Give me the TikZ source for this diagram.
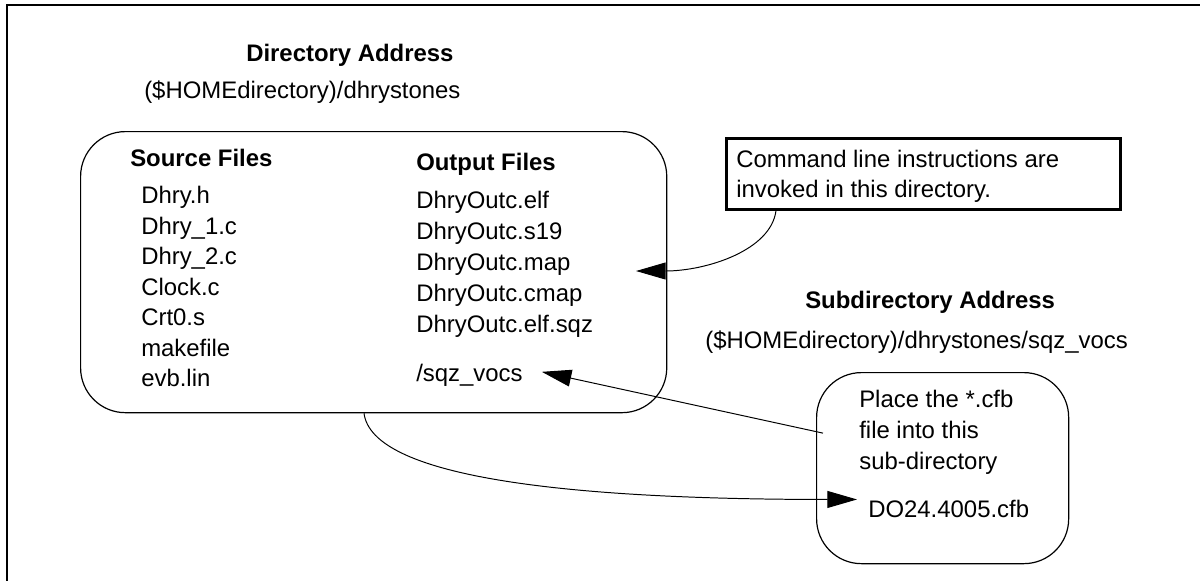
\documentclass[tikz,border=0pt]{standalone}
\usepackage{fontspec}
\setmainfont{Liberation Sans}
\usetikzlibrary{arrows.meta,calc,positioning}
\tikzset{
  every node/.style={font=\fontsize{17}{21.7}\selectfont, inner sep=0pt, anchor=base west},
  heading/.style={font=\fontsize{17}{21.7}\selectfont\bfseries},
  folder/.style={draw, line width=0.85pt, rounded corners=1.12cm, anchor=north west},
  notebox/.style={draw, line width=1.8pt, anchor=north west},
  frame/.style={draw, line width=1.4pt},
  link/.style={-{Triangle[length=21pt,width=12pt]}, line width=0.7pt},
}
\begin{document}
\begin{tikzpicture}[x=0.025cm,y=-0.025cm]
  \useasboundingbox (0,0) rectangle (1200,580);
  % Outer frame (runs off the right and bottom edges)
  \draw[frame] (7,600) -- (7,5) -- (1220,5);
  % Main directory
  \node[heading] (dirtitle) at (246,61) {Directory Address};
  \node (dirpath) at (144,98) {(\$HOMEdirectory)/dhrystones};
  \node[folder, minimum width=14.65cm, minimum height=7.025cm] (dirbox) at (80,131) {};
  \node[heading] (srchead) at (130,166) {Source Files};
  \foreach \f [count=\i from 0] in {Dhry.h, Dhry\_1.c, Dhry\_2.c, Clock.c, Crt0.s, makefile, evb.lin}
    \node (src\i) at (141,{203.5+30.5*\i}) {\f};
  \node[heading] (outhead) at (416,170) {Output Files};
  \foreach \f [count=\i from 0] in {DhryOutc.elf, DhryOutc.s19, DhryOutc.map, DhryOutc.cmap, DhryOutc.elf.sqz}
    \node (out\i) at (416,{208+31*\i}) {\f};
  \node (sqzvocs) at (416,381) {/sqz\_vocs};
  % Callout
  \node[notebox, minimum width=9.85cm, minimum height=1.775cm] (callout) at (725,137) {};
  \node (note1) at (736,167) {Command line instructions are};
  \node (note2) at (736,197) {invoked in this directory.};
  % Subdirectory
  \node[heading] (subtitle) at (805,308) {Subdirectory Address};
  \node (subpath) at (705,348) {(\$HOMEdirectory)/dhrystones/sqz\_vocs};
  \node[folder, minimum width=6.3cm, minimum height=4.775cm] (subbox) at (816,372) {};
  \node (place1) at (859,407) {Place the *.cfb};
  \node (place2) at (859,438) {file into this};
  \node (place3) at (859,469) {sub-directory};
  \node (docfb) at (868,517) {DO24.4005.cfb};
  % Connectors
  \coordinate (maptip) at (636,271);
  \draw[link] ($(callout.south west)+(51,0)$) .. controls +(-5,40) and +(70,0) .. (maptip);
  \draw[link] ($(subbox.west)+(7,-35)$) -- ($(sqzvocs.east)+(19,-3)$);
  \draw[link] ($(dirbox.south west)+(284,0)$) .. controls +(8,63) and +(-297,0) .. ($(docfb.west)+(-11,-9)$);
\end{tikzpicture}
\end{document}
